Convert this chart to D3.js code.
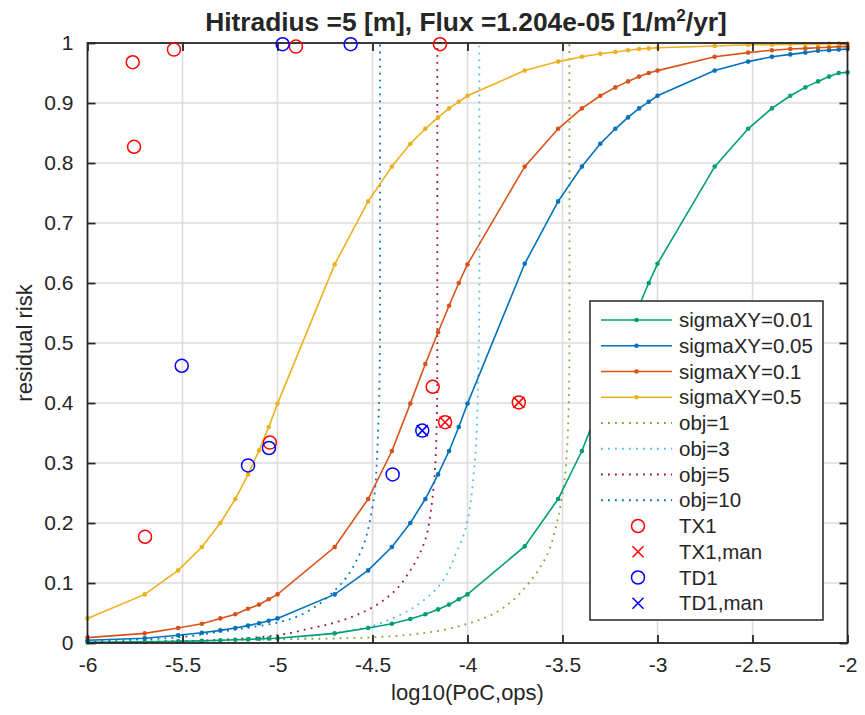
<!DOCTYPE html>
<html>
<head>
<meta charset="utf-8">
<script src="https://cdn.jsdelivr.net/npm/d3@7"></script>
<style>
  body { margin: 0; background: #fff; }
  svg text { font-family: "Liberation Sans", Arial, sans-serif; fill: #262626; }
</style>
</head>
<body>
<svg id="chart" width="865" height="715"></svg>
<script>
// log10(PoC) sample grid used by the sigmaXY curves
var pocLog = [-6, -5.699, -5.523, -5.398, -5.301, -5.222, -5.155, -5.097, -5.046,
    -5, -4.699, -4.523, -4.398, -4.301, -4.222, -4.155, -4.097, -4.046,
    -4, -3.699, -3.523, -3.398, -3.301, -3.222, -3.155, -3.097, -3.046,
    -3, -2.699, -2.523, -2.398, -2.301, -2.222, -2.155, -2.097, -2.046, -2];

var sigma001 = [0.001, 0.002, 0.003, 0.0035, 0.0045, 0.0055, 0.006, 0.007, 0.0075,
    0.008, 0.016, 0.025, 0.032, 0.040, 0.048, 0.056, 0.064, 0.073,
    0.081, 0.161, 0.240, 0.320, 0.399, 0.465, 0.518, 0.562, 0.600,
    0.632, 0.794, 0.857, 0.891, 0.912, 0.926, 0.936, 0.944, 0.950, 0.951];
var sigma005 = [0.0045, 0.008, 0.013, 0.017, 0.021, 0.025, 0.029, 0.033, 0.037,
    0.041, 0.081, 0.121, 0.160, 0.200, 0.240, 0.281, 0.320, 0.360,
    0.399, 0.632, 0.736, 0.794, 0.832, 0.857, 0.876, 0.891, 0.902,
    0.912, 0.954, 0.969, 0.977, 0.981, 0.984, 0.987, 0.988, 0.989, 0.990];
var sigma01 = [0.009, 0.016, 0.025, 0.032, 0.041, 0.048, 0.057, 0.064, 0.073,
    0.081, 0.160, 0.240, 0.320, 0.399, 0.465, 0.518, 0.562, 0.600,
    0.631, 0.794, 0.857, 0.891, 0.912, 0.926, 0.936, 0.944, 0.950,
    0.954, 0.977, 0.984, 0.988, 0.990, 0.991, 0.992, 0.993, 0.994, 0.994];
var sigma05 = [0.041, 0.081, 0.121, 0.160, 0.200, 0.240, 0.281, 0.321, 0.360,
    0.399, 0.631, 0.736, 0.794, 0.832, 0.857, 0.876, 0.891, 0.902,
    0.912, 0.954, 0.969, 0.977, 0.982, 0.985, 0.988, 0.990, 0.991,
    0.992, 0.995, 0.997, 0.997, 0.998, 0.998, 0.998, 0.999, 0.999, 0.999];

// objective curves (dotted)
var obj1X = [-6, -5.5, -5.0, -4.53, -4.3, -4.14, -4.0, -3.88, -3.78, -3.69, -3.62, -3.57, -3.53, -3.51, -3.49, -3.475, -3.467, -3.464, -3.464];
var obj1Y = [0.001, 0.003, 0.006, 0.009, 0.014, 0.021, 0.032, 0.046, 0.066, 0.095, 0.125, 0.155, 0.20, 0.23, 0.27, 0.33, 0.40, 0.47, 1];
var obj3X = [-6, -5.5, -5.2, -4.88, -4.71, -4.53, -4.41, -4.30, -4.22, -4.15, -4.10, -4.06, -4.02, -3.99, -3.968, -3.955, -3.947, -3.942, -3.938, -3.938];
var obj3Y = [0.001, 0.003, 0.005, 0.010, 0.016, 0.026, 0.039, 0.056, 0.074, 0.095, 0.12, 0.15, 0.18, 0.22, 0.28, 0.33, 0.40, 0.48, 0.55, 1];
var obj5X = [-6, -5.5, -5.32, -5, -4.83, -4.688, -4.566, -4.461, -4.373, -4.303, -4.25, -4.215, -4.195, -4.18, -4.171, -4.164, -4.16, -4.159, -4.159];
var obj5Y = [0.001, 0.003, 0.005, 0.013, 0.024, 0.035, 0.049, 0.067, 0.09, 0.12, 0.15, 0.18, 0.215, 0.255, 0.29, 0.34, 0.40, 0.46, 1];
var obj10X = [-6, -5.85, -5.5, -5.32, -5.145, -4.987, -4.882, -4.776, -4.688, -4.636, -4.583, -4.539, -4.513, -4.487, -4.478, -4.469, -4.463, -4.461, -4.461];
var obj10Y = [0.002, 0.004, 0.010, 0.018, 0.026, 0.035, 0.046, 0.066, 0.091, 0.110, 0.138, 0.171, 0.205, 0.254, 0.299, 0.366, 0.44, 0.52, 1];

// measured cases
var tx1X = [-5.762, -5.545, -5.755, -5.697, -4.903, -5.04, -4.145, -4.183, -4.118, -3.73];
var tx1Y = [0.968, 0.989, 0.827, 0.177, 0.994, 0.334, 0.998, 0.427, 0.368, 0.401];
var tx1ManX = [-4.118, -3.73];
var tx1ManY = [0.368, 0.401];
var td1X = [-4.973, -4.615, -5.504, -5.155, -5.045, -4.394, -4.238];
var td1Y = [0.998, 0.998, 0.462, 0.296, 0.325, 0.281, 0.354];
var td1ManX = [-4.238];
var td1ManY = [0.354];

var xTicks = [-6, -5.5, -5, -4.5, -4, -3.5, -3, -2.5, -2];
var yTicks = [0, 0.1, 0.2, 0.3, 0.4, 0.5, 0.6, 0.7, 0.8, 0.9, 1];

var lineSeries = [
    {name: 'sigmaXY=0.01', y: sigma001, color: '#009E73'},
    {name: 'sigmaXY=0.05', y: sigma005, color: '#0072BD'},
    {name: 'sigmaXY=0.1', y: sigma01, color: '#D95319'},
    {name: 'sigmaXY=0.5', y: sigma05, color: '#EDB120'}
];
var objSeries = [
    {name: 'obj=1', x: obj1X, y: obj1Y, color: '#77AC30'},
    {name: 'obj=3', x: obj3X, y: obj3Y, color: '#4DBEEE'},
    {name: 'obj=5', x: obj5X, y: obj5Y, color: '#A2142F'},
    {name: 'obj=10', x: obj10X, y: obj10Y, color: '#0072BD'}
];
var markerSeries = [
    {name: 'TX1', x: tx1X, y: tx1Y, color: '#FF0000', shape: 'circle'},
    {name: 'TX1,man', x: tx1ManX, y: tx1ManY, color: '#FF0000', shape: 'cross'},
    {name: 'TD1', x: td1X, y: td1Y, color: '#0000FF', shape: 'circle'},
    {name: 'TD1,man', x: td1ManX, y: td1ManY, color: '#0000FF', shape: 'cross'}
];

var svg = d3.select('#chart'),
    margin = {left: 87.5, right: 17.5, top: 43, bottom: 72},
    width = 865 - margin.left - margin.right,
    height = 715 - margin.top - margin.bottom;

var x = d3.scaleLinear().domain([-6, -2]).range([0, width]),
    y = d3.scaleLinear().domain([0, 1]).range([height, 0]);

var g = svg.append('g').attr('transform', 'translate(' + margin.left + ',' + margin.top + ')');

// grid
g.append('g').selectAll('line').data(xTicks.slice(1, -1)).enter().append('line')
    .attr('x1', function (d) { return x(d); }).attr('x2', function (d) { return x(d); })
    .attr('y1', 0).attr('y2', height)
    .attr('stroke', '#dcdcdc').attr('stroke-width', 1.6);
g.append('g').selectAll('line').data(yTicks.slice(1, -1)).enter().append('line')
    .attr('y1', function (d) { return y(d); }).attr('y2', function (d) { return y(d); })
    .attr('x1', 0).attr('x2', width)
    .attr('stroke', '#dcdcdc').attr('stroke-width', 1.6);

var curve = d3.line()
    .x(function (d) { return x(d[0]); })
    .y(function (d) { return y(d[1]); });
var smoothCurve = d3.line()
    .x(function (d) { return x(d[0]); })
    .y(function (d) { return y(d[1]); })
    .curve(d3.curveCatmullRom.alpha(0.5));

// dotted objective curves
objSeries.forEach(function (s) {
    var pts = s.x.map(function (v, i) { return [v, s.y[i]]; });
    g.append('path').attr('d', smoothCurve(pts))
        .attr('fill', 'none').attr('stroke', s.color)
        .attr('stroke-width', 1.8).attr('stroke-dasharray', '1.8,5.2');
});

// sigmaXY curves with point markers
lineSeries.forEach(function (s) {
    var pts = pocLog.map(function (v, i) { return [v, s.y[i]]; });
    g.append('path').attr('d', curve(pts))
        .attr('fill', 'none').attr('stroke', s.color).attr('stroke-width', 1.6);
    g.append('g').selectAll('circle').data(pts).enter().append('circle')
        .attr('cx', function (d) { return x(d[0]); })
        .attr('cy', function (d) { return y(d[1]); })
        .attr('r', 2.3).attr('fill', s.color);
});

function drawMarker(sel, shape, color) {
    if (shape === 'circle') {
        sel.append('circle').attr('r', 6.5).attr('fill', 'none')
            .attr('stroke', color).attr('stroke-width', 1.5);
    } else {
        sel.append('path').attr('d', 'M-5.5,-5.5L5.5,5.5M-5.5,5.5L5.5,-5.5')
            .attr('fill', 'none').attr('stroke', color).attr('stroke-width', 1.5);
    }
}

// axes box and ticks
g.append('rect').attr('width', width).attr('height', height)
    .attr('fill', 'none').attr('stroke', '#262626').attr('stroke-width', 1.8);

var xAxis = d3.axisBottom(x).tickValues(xTicks).tickSizeInner(-8).tickSizeOuter(0)
    .tickPadding(14).tickFormat(function (d) { return d3.format('')(d).replace('\u2212', '-'); });
var yAxis = d3.axisLeft(y).tickValues(yTicks).tickSizeInner(-8).tickSizeOuter(0)
    .tickPadding(14).tickFormat(function (d) { return String(d); });

var gx = g.append('g').attr('transform', 'translate(0,' + height + ')').call(xAxis);
var gy = g.append('g').call(yAxis);
g.append('g').call(d3.axisTop(x).tickValues(xTicks).tickSizeInner(-8).tickSizeOuter(0).tickFormat(''));
g.append('g').attr('transform', 'translate(' + width + ',0)')
    .call(d3.axisRight(y).tickValues(yTicks).tickSizeInner(-8).tickSizeOuter(0).tickFormat(''));
g.selectAll('.domain').remove();
g.selectAll('.tick line').attr('stroke', '#262626').attr('stroke-width', 1.8);
gx.selectAll('text').attr('font-size', 21).attr('fill', '#262626');
gy.selectAll('text').attr('font-size', 21).attr('fill', '#262626');

// measured markers (drawn on top of the box like MATLAB)
markerSeries.forEach(function (s) {
    s.x.forEach(function (v, i) {
        var m = g.append('g').attr('transform', 'translate(' + x(v) + ',' + y(s.y[i]) + ')');
        drawMarker(m, s.shape, s.color);
    });
});

// legend
var lg = svg.append('g').attr('transform', 'translate(590,301)');
lg.append('rect').attr('width', 233).attr('height', 319)
    .attr('fill', '#fff').attr('stroke', '#262626').attr('stroke-width', 1.5);
var rowH = 25.75, row0 = 19;
var allEntries = lineSeries.map(function (s) { return {s: s, kind: 'line'}; })
    .concat(objSeries.map(function (s) { return {s: s, kind: 'obj'}; }))
    .concat(markerSeries.map(function (s) { return {s: s, kind: 'marker'}; }));
allEntries.forEach(function (e, i) {
    var ry = row0 + i * rowH,
        row = lg.append('g').attr('transform', 'translate(0,' + ry + ')');
    if (e.kind === 'line') {
        row.append('line').attr('x1', 11).attr('x2', 82).attr('stroke', e.s.color).attr('stroke-width', 1.6);
        row.append('circle').attr('cx', 46.5).attr('r', 2.3).attr('fill', e.s.color);
    } else if (e.kind === 'obj') {
        row.append('line').attr('x1', 11).attr('x2', 82).attr('stroke', e.s.color)
            .attr('stroke-width', 1.8).attr('stroke-dasharray', '1.8,5.2');
    } else {
        drawMarker(row.append('g').attr('transform', 'translate(48,0)'), e.s.shape, e.s.color);
    }
    row.append('text').attr('x', 89).attr('y', 7).attr('font-size', 20.5).attr('fill', '#000').text(e.s.name);
});

// axis labels
svg.append('text').attr('x', margin.left + width / 2).attr('y', 700)
    .attr('text-anchor', 'middle').attr('font-size', 22).text('log10(PoC,ops)');
svg.append('text').attr('transform', 'translate(32,' + (margin.top + height / 2) + ') rotate(-90)')
    .attr('text-anchor', 'middle').attr('font-size', 22).text('residual risk');

// title, fitted to the reference width
var title = svg.append('text').attr('font-size', 26).attr('font-weight', 'bold')
    .attr('text-anchor', 'middle').attr('fill', '#000');
title.append('tspan').text('Hitradius =5 [m], Flux =1.204e-05 [1/m');
title.append('tspan').attr('dy', -10).attr('font-size', 17).text('2');
title.append('tspan').attr('dy', 10).text('/yr]');
var tw = title.node().getBBox().width;
title.attr('transform', 'translate(466,31) scale(' + (522 / tw) + ',1)');
</script>
</body>
</html>
